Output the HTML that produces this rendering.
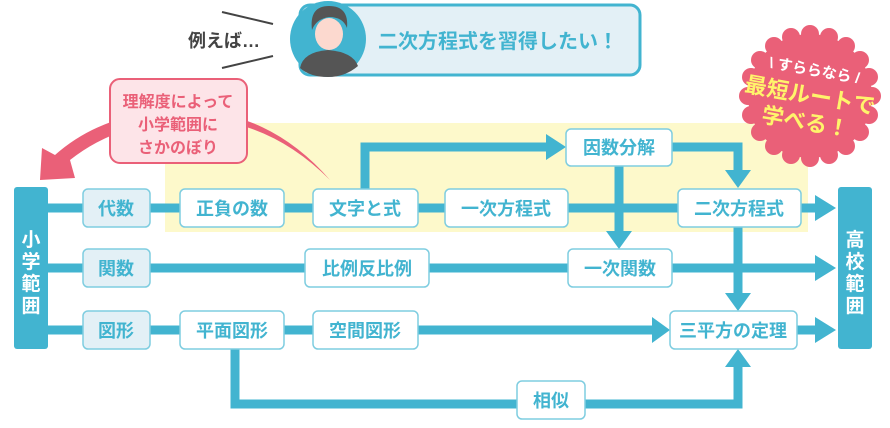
<!DOCTYPE html>
<html><head><meta charset="utf-8"><style>
body{margin:0;background:#fff;}
svg text{font-family:"Liberation Sans","Noto Sans CJK JP",sans-serif;font-weight:bold;}
</style></head><body>
<svg width="890" height="423" viewBox="0 0 890 423" xmlns="http://www.w3.org/2000/svg">
<rect x="165" y="123" width="643" height="109" fill="#fdf9cb"/>
<!-- top speech -->
<line x1="222" y1="12" x2="273" y2="24" stroke="#444" stroke-width="2"/>
<line x1="222" y1="68" x2="273" y2="56" stroke="#444" stroke-width="2"/>
<text x="188" y="47" font-size="18" fill="#444">例えば…</text>
<rect x="300" y="5" width="340" height="70" rx="10" fill="#e3f0f6" stroke="#42b4d0" stroke-width="3"/>
<circle cx="328" cy="39" r="38" fill="#42b4d0"/>
<path d="M300 68 Q303 52 328 50 Q353 52 358 66 Q345 77 328 77 Q310 77 300 68Z" fill="#555"/>
<ellipse cx="329" cy="34" rx="14" ry="16" fill="#fcd9cf"/>
<path d="M312 30 Q309 6 329 6 Q349 6 347 28 Q343 17 329 17 Q316 19 312 30Z" fill="#555"/>
<text x="378" y="48" font-size="20" fill="#42b4d0">二次方程式を習得したい！</text>
<!-- pink arrow -->
<path d="M330 180 Q260 110 170 120 Q110 128 70 160 L75 178 L40 180 L42 148 L55 155 Q100 115 170 110 Q265 105 330 180Z" fill="#ea6078"/>
<rect x="110" y="79" width="137" height="84" rx="10" fill="#fde4e8" stroke="#ea6078" stroke-width="2"/>
<text font-size="16" fill="#ea6078" text-anchor="middle"><tspan x="178" y="107">理解度によって</tspan><tspan x="178" y="130">小学範囲に</tspan><tspan x="178" y="153">さかのぼり</tspan></text>
<!-- burst -->
<g fill="#ea6078">
<circle cx="810" cy="96" r="62"/>
<circle cx="872" cy="96" r="9"/><circle cx="869" cy="115" r="9"/><circle cx="860" cy="132" r="9"/><circle cx="846" cy="146" r="9"/><circle cx="829" cy="155" r="9"/><circle cx="810" cy="158" r="9"/><circle cx="791" cy="155" r="9"/><circle cx="774" cy="146" r="9"/><circle cx="760" cy="132" r="9"/><circle cx="751" cy="115" r="9"/><circle cx="748" cy="96" r="9"/><circle cx="751" cy="77" r="9"/><circle cx="760" cy="60" r="9"/><circle cx="774" cy="46" r="9"/><circle cx="791" cy="37" r="9"/><circle cx="810" cy="34" r="9"/><circle cx="829" cy="37" r="9"/><circle cx="846" cy="46" r="9"/><circle cx="860" cy="60" r="9"/><circle cx="869" cy="77" r="9"/>
</g>
<g transform="rotate(10 810 96)" text-anchor="middle">
<text x="810" y="75" font-size="15" fill="#fff">\ すららなら /</text>
<text x="810" y="103" font-size="22" fill="#fff46b">最短ルートで</text>
<text x="810" y="130" font-size="22" fill="#fff46b">学べる！</text>
</g>
<!-- lines -->
<g stroke="#42b4d0" stroke-width="9" fill="none">
<line x1="48" y1="208" x2="815" y2="208"/>
<line x1="48" y1="268" x2="815" y2="268"/>
<line x1="48" y1="330" x2="655" y2="330"/>
<line x1="797" y1="330" x2="815" y2="330"/>
<polyline points="365,190 365,147 548,147"/>
<polyline points="672,147 738,147 738,175"/>
<line x1="619" y1="166" x2="619" y2="236"/>
<line x1="738" y1="226" x2="738" y2="298"/>
<polyline points="235,349 235,404 738,404 738,362"/>
</g>
<g fill="#42b4d0">
<polygon points="546,134 566,147 546,160"/>
<polygon points="725,170 751,170 738,188"/>
<polygon points="606,231 632,231 619,249"/>
<polygon points="725,293 751,293 738,311"/>
<polygon points="725,367 751,367 738,349"/>
<polygon points="652,317 670,330 652,343"/>
<polygon points="815,195 836,208 815,221"/>
<polygon points="815,255 836,268 815,281"/>
<polygon points="815,317 836,330 815,343"/>
<rect x="14" y="187" width="34" height="162" rx="3"/>
<rect x="838" y="187" width="34" height="162" rx="3"/>
</g>
<g fill="#fff" font-size="19" text-anchor="middle">
<text x="31" y="246">小</text><text x="31" y="268">学</text><text x="31" y="290">範</text><text x="31" y="312">囲</text>
<text x="855" y="246">高</text><text x="855" y="268">校</text><text x="855" y="290">範</text><text x="855" y="312">囲</text>
</g>
<g stroke="#7fcde0" stroke-width="1.5">
<rect x="83" y="189" width="67" height="38" rx="5" fill="#e3f0f6"/>
<rect x="83" y="249" width="67" height="38" rx="5" fill="#e3f0f6"/>
<rect x="83" y="311" width="67" height="38" rx="5" fill="#e3f0f6"/>
<rect x="180" y="189" width="104" height="38" rx="5" fill="#fff"/>
<rect x="313" y="189" width="105" height="38" rx="5" fill="#fff"/>
<rect x="445" y="189" width="123" height="38" rx="5" fill="#fff"/>
<rect x="678" y="189" width="123" height="38" rx="5" fill="#fff"/>
<rect x="566" y="129" width="106" height="37" rx="5" fill="#fff"/>
<rect x="305" y="249" width="124" height="38" rx="5" fill="#fff"/>
<rect x="568" y="249" width="104" height="38" rx="5" fill="#fff"/>
<rect x="180" y="311" width="104" height="38" rx="5" fill="#fff"/>
<rect x="313" y="311" width="105" height="38" rx="5" fill="#fff"/>
<rect x="670" y="311" width="127" height="38" rx="5" fill="#fff"/>
<rect x="517" y="381" width="68" height="38" rx="5" fill="#fff"/>
</g>
<g fill="#42b4d0" font-size="18" text-anchor="middle">
<text x="116" y="215">代数</text>
<text x="116" y="275">関数</text>
<text x="116" y="337">図形</text>
<text x="232" y="215">正負の数</text>
<text x="365" y="215">文字と式</text>
<text x="506" y="215">一次方程式</text>
<text x="739" y="215">二次方程式</text>
<text x="619" y="154">因数分解</text>
<text x="367" y="275">比例反比例</text>
<text x="620" y="275">一次関数</text>
<text x="232" y="337">平面図形</text>
<text x="365" y="337">空間図形</text>
<text x="733" y="337">三平方の定理</text>
<text x="551" y="407">相似</text>
</g>
</svg>
</body></html>
